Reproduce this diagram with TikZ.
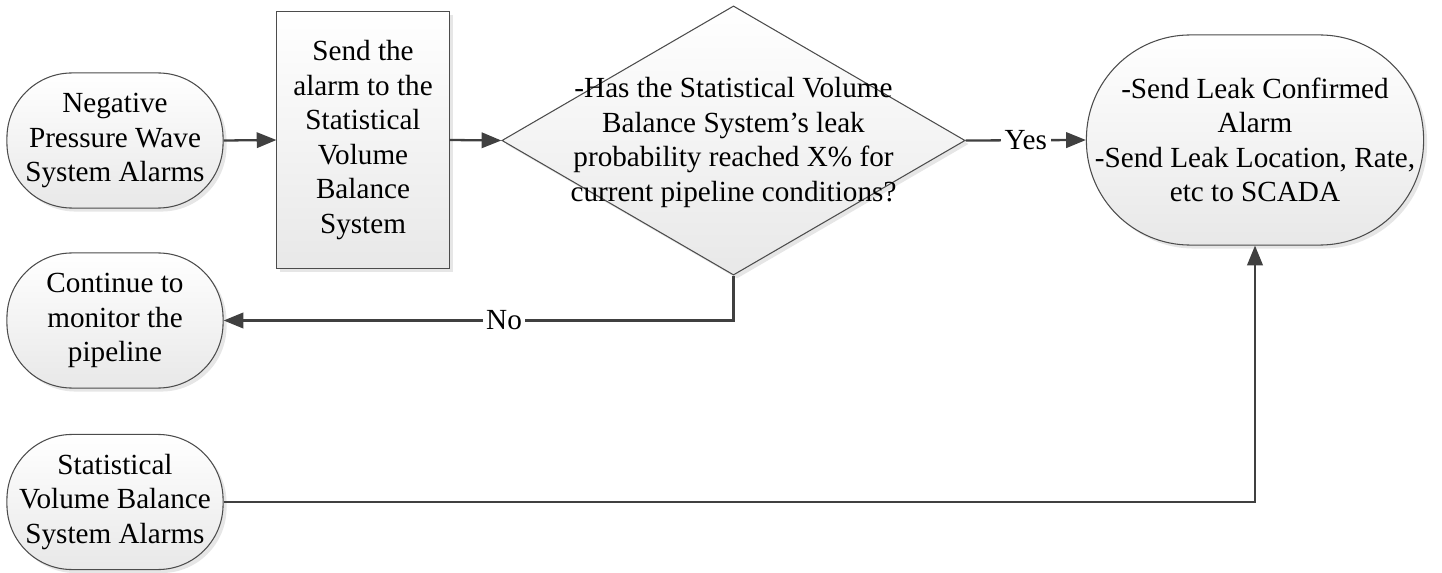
\documentclass[tikz,border=0pt]{standalone}
\usepackage{fontspec}
\setmainfont{Liberation Serif}
\usetikzlibrary{shapes.geometric,arrows.meta,shadows}
\begin{document}
\begin{tikzpicture}[x=0.01cm, y=-0.01cm,
	every node/.style={font=\fontsize{8.3}{9.8}\selectfont, align=center},
	box/.style={draw=black!70, line width=0.3pt, top color=white, bottom color=black!9,
		drop shadow={opacity=0.2, shadow xshift=0.035cm, shadow yshift=-0.035cm}},
	term/.style={box, rounded corners=0.65cm, minimum width=2.16cm, minimum height=1.35cm, inner sep=0pt},
	flow/.style={draw=black!75, line width=0.65pt, -{Triangle[length=5.6pt,width=4.4pt]}},
	tag/.style={fill=white, inner sep=1pt}]
	\useasboundingbox (0,0) rectangle (1442,573);
	
	\node [term] (npw) at (115,140.5) {Negative\\Pressure Wave\\System Alarms};
	\node [term] (cont) at (115,320.5) {Continue to\\monitor the\\pipeline};
	\node [term] (sva) at (115,502) {Statistical\\Volume Balance\\System Alarms};
	\node [box, minimum width=1.72cm, minimum height=2.56cm, inner sep=0pt] (send) at (363,140)
		{Send the\\alarm to the\\Statistical\\Volume\\Balance\\System};
	\node [box, diamond, minimum width=4.63cm, minimum height=2.69cm, inner sep=0pt] (check) at (733.5,140.5) {};
	\node (checktext) at ([yshift=-0.02cm]check.center) {-Has the Statistical Volume\\Balance System’s leak\\probability reached X\% for\\current pipeline conditions?};
	\node [box, rounded corners=1.04cm, minimum width=3.37cm, minimum height=2.1cm, inner sep=0pt] (leak) at (1255,140)
		{-Send Leak Confirmed\\Alarm\\-Send Leak Location, Rate,\\etc to SCADA};
	
	\draw [flow] (npw.east) -- (send.west);
	\draw [flow] (send.east) -- (check.west);
	\draw [flow] (check.east) -- node [tag] {Yes} (leak.west);
	\draw [flow] (check.south) |- node [tag, pos=0.725] {No} (cont.east);
	\draw [flow] (sva.east) -| (leak.south);
\end{tikzpicture}
\end{document}
